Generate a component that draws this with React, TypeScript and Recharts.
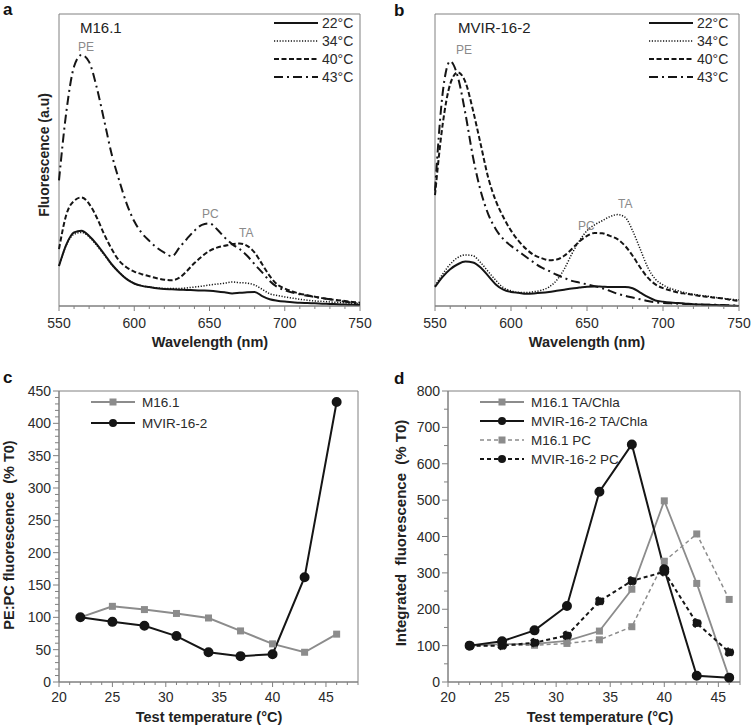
import React from 'react';
import { LineChart, Line, XAxis, YAxis, ReferenceArea } from 'recharts';

// spectra, 550-750 nm every 5 nm, arbitrary units (0-100 = plot height)
const wavelengths = [
  550, 555, 560, 565, 570, 575, 580, 585, 590, 595, 600, 605, 610, 615, 620, 625, 630, 635, 640, 645, 650,
  655, 660, 665, 670, 675, 680, 685, 690, 695, 700, 705, 710, 715, 720, 725, 730, 735, 740, 745, 750,
];

const m16_22 = [
  13.7, 21.2, 25.2, 25.8, 24.0, 21.2, 17.8, 14.3, 11.5, 9.2, 7.7, 6.9, 6.5, 6.1, 5.8, 5.7, 5.6, 5.5, 5.4, 5.3, 5.2,
  5.0, 4.7, 4.3, 4.5, 4.7, 4.8, 3.4, 2.3, 1.8, 1.5, 1.3, 1.1, 1.0, 0.9, 0.8, 0.7, 0.6, 0.5, 0.4, 0.3,
];
const m16_34 = [
  13.7, 21.0, 24.6, 25.2, 23.7, 20.8, 17.5, 14.2, 11.5, 9.3, 7.7, 6.9, 6.5, 6.2, 6.0, 6.0, 6.0, 6.2, 6.5, 6.8, 7.2,
  7.5, 7.8, 8.2, 8.0, 7.8, 7.2, 5.7, 4.2, 3.6, 3.1, 2.7, 2.3, 2.0, 1.7, 1.6, 1.4, 1.2, 1.1, 0.9, 0.8,
];
const m16_40 = [
  19.5, 31.5, 36.0, 37.2, 35.0, 30.4, 24.6, 19.5, 15.5, 13.2, 11.8, 10.9, 10.2, 9.5, 9.0, 8.8, 9.7, 12.0, 14.7, 17.0, 18.9,
  20.0, 20.6, 21.2, 21.4, 20.6, 18.3, 14.3, 10.3, 7.4, 6.0, 5.0, 4.2, 3.7, 3.2, 2.7, 2.3, 2.0, 1.7, 1.4, 1.1,
];
const m16_43 = [
  43.0, 67.0, 82.0, 86.0, 83.6, 75.0, 63.6, 52.0, 43.0, 35.0, 29.0, 25.0, 22.3, 20.0, 18.3, 17.0, 20.0, 23.0, 25.8, 27.8, 28.3,
  26.3, 23.5, 21.2, 19.5, 17.2, 14.3, 11.5, 8.6, 6.5, 5.4, 4.6, 4.0, 3.5, 3.1, 2.7, 2.3, 1.9, 1.5, 1.1, 0.8,
];

const mvir_22 = [
  6.5, 10.0, 12.6, 14.3, 15.2, 14.9, 13.2, 10.3, 7.4, 5.6, 4.8, 4.5, 4.2, 4.3, 4.5, 4.8, 5.2, 5.6, 6.0, 6.3, 6.6,
  6.7, 6.6, 6.5, 6.5, 6.5, 6.1, 4.6, 3.1, 1.9, 1.5, 1.2, 1.0, 0.8, 0.6, 0.5, 0.4, 0.3, 0.2, 0.1, 0.0,
];
const mvir_34 = [
  6.9, 10.9, 14.3, 16.6, 17.5, 17.2, 14.9, 11.8, 8.8, 6.3, 5.2, 4.6, 4.6, 4.9, 5.4, 6.5, 8.8, 12.6, 17.8, 22.3, 25.8,
  27.8, 29.2, 30.6, 31.3, 30.4, 25.8, 19.5, 13.2, 9.2, 7.2, 6.0, 5.2, 4.5, 4.0, 3.6, 3.3, 2.9, 2.6, 2.3, 2.1,
];
const mvir_40 = [
  38.0, 62.0, 76.0, 80.0, 76.7, 67.0, 55.5, 44.0, 36.0, 30.4, 25.8, 22.3, 19.5, 17.5, 16.4, 15.7, 15.9, 17.2, 19.5, 22.1, 24.0,
  25.0, 24.9, 24.0, 22.9, 20.6, 17.2, 13.2, 9.7, 7.4, 6.1, 5.3, 4.6, 4.2, 3.8, 3.4, 3.1, 2.8, 2.5, 2.1, 1.7,
];
const mvir_43 = [
  39.5, 72.7, 83.8, 78.5, 65.9, 51.0, 39.5, 31.5, 26.3, 22.9, 20.6, 18.7, 16.8, 14.9, 13.2, 12.0, 10.7, 9.6, 8.6, 8.0, 7.4,
  6.8, 6.1, 5.2, 4.2, 3.5, 2.9, 2.3, 1.7, 1.3, 1.0, 0.9, 0.8, 0.7, 0.6, 0.5, 0.4, 0.4, 0.3, 0.2, 0.2,
];

// temperature series (% T0)
const temps = [22, 25, 28, 31, 34, 37, 40, 43, 46];
const pepcM16 = [100, 117, 112, 106, 99, 79, 59, 46, 74];
const pepcMvir = [100, 93, 87, 71, 46, 40, 43, 162, 433];
const taM16 = [100, 104, 105, 113, 140, 255, 498, 271, 12];
const taMvir = [100, 112, 142, 209, 523, 653, 310, 17, 12];
const pcM16 = [100, 101, 101, 106, 116, 152, 332, 407, 227];
const pcMvir = [100, 100, 108, 128, 222, 278, 303, 162, 82];

const specTicks = [550, 600, 650, 700, 750];
const tempTicks = [20, 25, 30, 35, 40, 45];
const ratioTicks = [0, 50, 100, 150, 200, 250, 300, 350, 400, 450];
const integTicks = [0, 100, 200, 300, 400, 500, 600, 700, 800];

const FONT = '"Liberation Sans", Arial, sans-serif';
const GREY = '#8c8c8c';
const BLACK = '#151515';
const AXIS = '#808080';

const tempLegend = ['22°C', '34°C', '40°C', '43°C'];
const tempStyles = [
  { dash: undefined, width: 2 },
  { dash: '1.2 1.6', width: 1.5 },
  { dash: '5 2.5', width: 2 },
  { dash: '9 4 2 4', width: 2 },
];

const range = (a: number, b: number, s: number) => {
  const out: number[] = [];
  for (let v = a; v <= b + 1e-9; v += s) out.push(v);
  return out;
};

const specData = (s: number[][]) =>
  wavelengths.map((w, i) => ({ w, t22: s[0][i], t34: s[1][i], t40: s[2][i], t43: s[3][i] }));

const BottomTick = (props: any) => {
  const { x, y, payload, labels, fontSize, dy } = props;
  const major = labels.includes(payload.value);
  return (
    <g>
      <line x1={x} x2={x} y1={y} y2={y + (major ? 5 : 3)} stroke={AXIS} />
      {major && (
        <text x={x} y={y + dy} textAnchor="middle" fontSize={fontSize} fill="#2a2a2a" fontFamily={FONT}>
          {payload.value}
        </text>
      )}
    </g>
  );
};

const LeftTick = (props: any) => {
  const { x, y, payload, labels } = props;
  const major = labels.includes(payload.value);
  return (
    <g>
      <line x1={x} x2={x - (major ? 6 : 4)} y1={y} y2={y} stroke={AXIS} />
      {major && (
        <text x={x - 8} y={y + 5} textAnchor="end" fontSize={14} fill="#2a2a2a" fontFamily={FONT}>
          {payload.value}
        </text>
      )}
    </g>
  );
};

const Square = (props: any) => {
  const { cx, cy, index } = props;
  return <rect key={`sq-${index}`} x={cx - 3.5} y={cy - 3.5} width={7} height={7} fill={GREY} />;
};

const SpectrumPanel = ({ series, left, right }: { series: number[][]; left: number; right: number }) => (
  <LineChart width={376} height={360} data={specData(series)} margin={{ top: 14, right, left, bottom: 0 }}>
    <ReferenceArea x1={550} x2={750} y1={0} y2={100} fill="none" stroke={AXIS} strokeWidth={1} ifOverflow="visible" />
    <XAxis
      dataKey="w"
      type="number"
      domain={[550, 750]}
      ticks={range(550, 750, 10)}
      interval={0}
      height={54}
      tickSize={0}
      tickMargin={0}
      tickLine={false}
      axisLine={{ stroke: AXIS }}
      tick={(p: any) => <BottomTick {...p} labels={specTicks} fontSize={14} dy={22} />}
    />
    <YAxis hide type="number" domain={[0, 100]} />
    {['t22', 't34', 't40', 't43'].map((k, i) => (
      <Line
        key={k}
        dataKey={k}
        type="monotone"
        stroke={BLACK}
        strokeWidth={tempStyles[i].width}
        strokeDasharray={tempStyles[i].dash}
        dot={false}
        isAnimationActive={false}
      />
    ))}
  </LineChart>
);

const ratioData = temps.map((t, i) => ({ t, m16: pepcM16[i], mvir: pepcMvir[i] }));
const integData = temps.map((t, i) => ({ t, taM16: taM16[i], taMvir: taMvir[i], pcM16: pcM16[i], pcMvir: pcMvir[i] }));

const TempAxis = (maxT: number) => (
  <XAxis
    dataKey="t"
    type="number"
    domain={[20, maxT]}
    ticks={range(20, maxT, 1)}
    interval={0}
    height={43}
    tickSize={0}
    tickMargin={0}
    tickLine={false}
    axisLine={{ stroke: AXIS }}
    tick={(p: any) => <BottomTick {...p} labels={tempTicks} fontSize={14} dy={20} />}
  />
);

const SpecLegend = ({ x, y }: { x: number; y: number }) => (
  <g>
    {tempLegend.map((lab, i) => (
      <g key={lab}>
        <line
          x1={x}
          x2={x + 44}
          y1={y + i * 18}
          y2={y + i * 18}
          stroke={BLACK}
          strokeWidth={tempStyles[i].width}
          strokeDasharray={tempStyles[i].dash}
        />
        <text x={x + 48} y={y + i * 18 + 5} fontSize={14} fill="#2a2a2a">
          {lab}
        </text>
      </g>
    ))}
  </g>
);

const MarkLegend = ({
  x,
  y,
  step,
  items,
}: {
  x: number;
  y: number;
  step: number;
  items: { label: string; color: string; dash?: string; square: boolean; w: number }[];
}) => (
  <g>
    {items.map((it, i) => {
      const yy = y + i * step;
      return (
        <g key={it.label}>
          <line x1={x} x2={x + 44} y1={yy} y2={yy} stroke={it.color} strokeWidth={it.w} strokeDasharray={it.dash} />
          {it.square ? (
            <rect x={x + 18.5} y={yy - 3.5} width={7} height={7} fill={it.color} />
          ) : (
            <circle cx={x + 22} cy={yy} r={4} fill={it.color} />
          )}
          <text x={x + 51} y={yy + 5} fontSize={13.5} fill="#2a2a2a">
            {it.label}
          </text>
        </g>
      );
    })}
  </g>
);

export default function App() {
  return (
    <div style={{ position: 'absolute', left: 0, top: 0, width: 752, height: 725, background: '#fff', fontFamily: FONT }}>
      <div style={{ position: 'absolute', left: 0, top: 0 }}>
        <SpectrumPanel series={[m16_22, m16_34, m16_40, m16_43]} left={59} right={16} />
      </div>
      <div style={{ position: 'absolute', left: 376, top: 0 }}>
        <SpectrumPanel series={[mvir_22, mvir_34, mvir_40, mvir_43]} left={59} right={13} />
      </div>

      <div style={{ position: 'absolute', left: 0, top: 340 }}>
        <LineChart width={376} height={385} data={ratioData} margin={{ top: 51, right: 18, left: 0, bottom: 0 }}>
          <ReferenceArea x1={20} x2={48} y1={0} y2={450} fill="none" stroke={AXIS} ifOverflow="visible" />
          {TempAxis(48)}
          <YAxis
            type="number"
            domain={[0, 450]}
            ticks={range(0, 450, 10)}
            interval={0}
            width={59}
            tickSize={0}
            tickMargin={0}
            tickLine={false}
            axisLine={{ stroke: AXIS }}
            tick={(p: any) => <LeftTick {...p} labels={ratioTicks} />}
          />
          <Line dataKey="m16" stroke={GREY} strokeWidth={2} dot={Square} isAnimationActive={false} />
          <Line dataKey="mvir" stroke={BLACK} strokeWidth={2} dot={{ r: 4, fill: BLACK, stroke: BLACK }} isAnimationActive={false} />
        </LineChart>
      </div>

      <div style={{ position: 'absolute', left: 376, top: 340 }}>
        <LineChart width={376} height={385} data={integData} margin={{ top: 51, right: 12, left: 0, bottom: 0 }}>
          <ReferenceArea x1={20} x2={47} y1={0} y2={800} fill="none" stroke={AXIS} ifOverflow="visible" />
          {TempAxis(47)}
          <YAxis
            type="number"
            domain={[0, 800]}
            ticks={range(0, 800, 50)}
            interval={0}
            width={72}
            tickSize={0}
            tickMargin={0}
            tickLine={false}
            axisLine={{ stroke: AXIS }}
            tick={(p: any) => <LeftTick {...p} labels={integTicks} />}
          />
          <Line dataKey="pcM16" stroke={GREY} strokeWidth={1.5} strokeDasharray="4 3" dot={Square} isAnimationActive={false} />
          <Line dataKey="taM16" stroke={GREY} strokeWidth={1.8} dot={Square} isAnimationActive={false} />
          <Line dataKey="pcMvir" stroke={BLACK} strokeWidth={2} strokeDasharray="4 3" dot={{ r: 4, fill: BLACK, stroke: BLACK }} isAnimationActive={false} />
          <Line dataKey="taMvir" stroke={BLACK} strokeWidth={2} dot={{ r: 4, fill: BLACK, stroke: BLACK }} isAnimationActive={false} />
        </LineChart>
      </div>

      {/* text overlay: panel letters, titles, annotations, legends */}
      <svg width={752} height={725} style={{ position: 'absolute', left: 0, top: 0, pointerEvents: 'none' }} fontFamily={FONT}>
        <g fontWeight="bold" fontSize={17} fill="#111">
          <text x={3} y={15}>a</text>
          <text x={394} y={16}>b</text>
          <text x={3} y={383}>c</text>
          <text x={394} y={384}>d</text>
        </g>
        <g fontWeight="bold" fontSize={14.5} fill="#222" textAnchor="middle">
          <text x={210} y={347}>Wavelength (nm)</text>
          <text x={587} y={347}>Wavelength (nm)</text>
          <text x={209} y={722}>Test temperature (°C)</text>
          <text x={600} y={722}>Test temperature (°C)</text>
          <text transform="translate(49,155) rotate(-90)" fontSize={14}>Fluorescence (a.u)</text>
          <text transform="translate(14,535) rotate(-90)" xmlSpace="preserve">{'PE:PC fluorescence  (% T0)'}</text>
          <text transform="translate(406,533) rotate(-90)" fontSize={15} xmlSpace="preserve">
            {'Integrated  fluorescence  (% T0)'}
          </text>
        </g>
        <g fontSize={15} fill="#222">
          <text x={80} y={33}>M16.1</text>
          <text x={458} y={33}>MVIR-16-2</text>
        </g>
        <g fontSize={12} fill="#8a8a8a">
          <text x={78} y={51}>PE</text>
          <text x={202} y={218}>PC</text>
          <text x={239} y={237}>TA</text>
          <text x={456} y={54}>PE</text>
          <text x={618} y={208}>TA</text>
          <text x={578} y={230}>PC</text>
        </g>
        <SpecLegend x={274} y={23} />
        <SpecLegend x={649} y={23} />
        <MarkLegend
          x={91}
          y={402}
          step={21}
          items={[
            { label: 'M16.1', color: GREY, square: true, w: 2 },
            { label: 'MVIR-16-2', color: BLACK, square: false, w: 2 },
          ]}
        />
        <MarkLegend
          x={480}
          y={402}
          step={19}
          items={[
            { label: 'M16.1 TA/Chla', color: GREY, square: true, w: 1.8 },
            { label: 'MVIR-16-2 TA/Chla', color: BLACK, square: false, w: 2 },
            { label: 'M16.1 PC', color: GREY, dash: '4 3', square: true, w: 1.5 },
            { label: 'MVIR-16-2 PC', color: BLACK, dash: '4 3', square: false, w: 2 },
          ]}
        />
      </svg>
    </div>
  );
}
